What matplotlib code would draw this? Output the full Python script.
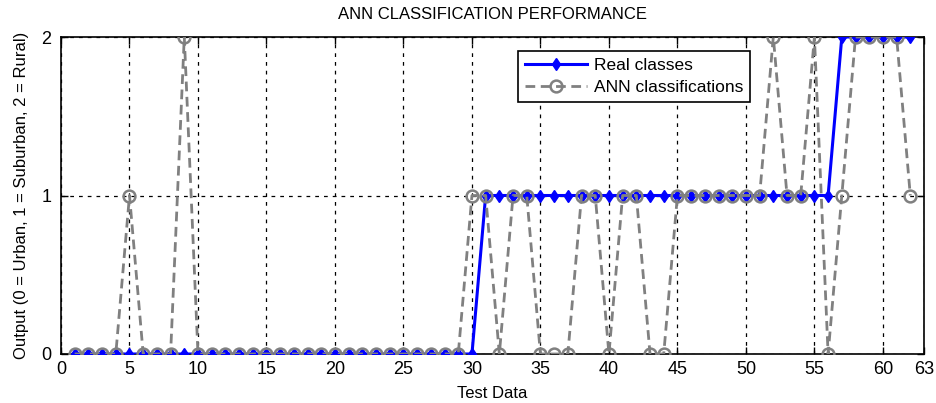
import matplotlib
matplotlib.use("Agg")
import matplotlib.pyplot as plt
import numpy as np

plt.rcParams['font.family'] = ['Liberation Sans', 'DejaVu Sans']

test_index = list(range(1, 63))
real_classes = [0]*30 + [1]*26 + [2]*6
ann_classes = [0, 0, 0, 0, 1, 0, 0, 0, 2, 0,
               0, 0, 0, 0, 0, 0, 0, 0, 0, 0,
               0, 0, 0, 0, 0, 0, 0, 0, 0, 1,
               1, 0, 1, 1, 0, 0, 0, 1, 1, 0,
               1, 1, 0, 0, 1, 1, 1, 1, 1, 1,
               1, 2, 1, 1, 2, 0, 1, 2, 2, 2,
               2, 1]
x_ticks = [0, 5, 10, 15, 20, 25, 30, 35, 40, 45, 50, 55, 60, 63]
y_ticks = [0, 1, 2]

fig = plt.figure(figsize=(9.36, 4.03), dpi=100)
ax = fig.add_axes([61/936, 1-354/403, (924-61)/936, (354-37)/403])

ax.plot(test_index, real_classes, color='#0000ff', lw=2.2, marker='d',
        markersize=6.5, markerfacecolor='#0000ff', markeredgecolor='#0000ff',
        label='Real classes', zorder=3)
ax.plot(test_index, ann_classes, color='#808080', lw=2, ls=(0, (3.5, 2)),
        marker='o', markersize=8.5, markerfacecolor='none',
        markeredgecolor='#808080', markeredgewidth=1.8,
        label='ANN classifications', zorder=4)

ax.set_xlim(0, 63)
ax.set_ylim(0, 2)
ax.set_xticks(x_ticks)
ax.set_yticks(y_ticks)
ax.tick_params(direction='in', top=True, right=True, length=5, labelsize=13,
               width=1)
ax.tick_params(axis='y', pad=7)
ax.tick_params(axis='x', pad=5)
ax.grid(True, color='black', ls=(0, (3, 4)), lw=0.9)
for s in ax.spines.values():
    s.set_linewidth(1.2)

ax.set_title('ANN CLASSIFICATION PERFORMANCE', fontsize=12, pad=13)
ax.set_xlabel('Test Data', fontsize=12, labelpad=6)
ax.set_ylabel('Output (0 = Urban, 1 = Suburban, 2 = Rural)', fontsize=12, labelpad=9)

leg = ax.legend(loc='upper left', bbox_to_anchor=(0.519, 0.982), fontsize=12.5,
                frameon=True, fancybox=False, edgecolor='black', framealpha=1,
                handlelength=3.6, borderpad=0.4, labelspacing=0.35,
                handletextpad=0.4)
leg.get_frame().set_linewidth(1.2)

fig.savefig('out.png', dpi=100)
